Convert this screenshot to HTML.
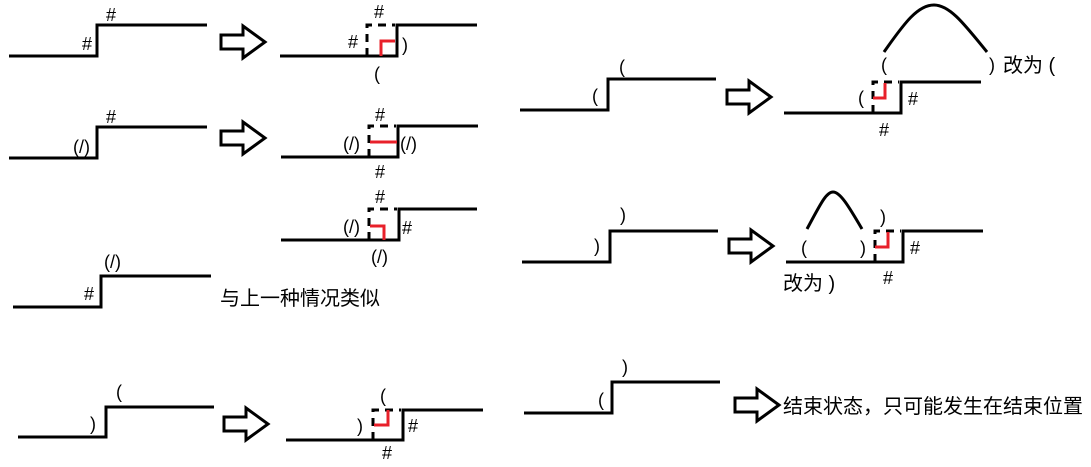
<!DOCTYPE html>
<html><head><meta charset="utf-8"><style>
html,body{margin:0;padding:0;background:#fff;}
svg{display:block;}
text{font-family:"Liberation Sans","Noto Sans CJK SC",sans-serif;font-size:18px;fill:#000;}
.c{font-size:20px;}
</style></head><body>
<svg width="1091" height="467" viewBox="0 0 1091 467" xmlns="http://www.w3.org/2000/svg">
<defs>
<g id="arr"><path d="M0,-7 H22 V-16 L44,0 L22,16 V7 H0 Z" fill="#fff" stroke="#000" stroke-width="3" stroke-linejoin="miter"/></g>
</defs>
<g fill="none" stroke="#000" stroke-width="3">
<polyline points="9,56 97,56 97,25 207,25"/>
<polyline points="9,158 97,158 97,127 207,127"/>
<polyline points="13,307 101,307 101,276 211,276"/>
<polyline points="18,437 106,437 106,407 214,407"/>
<polyline points="280,56 397,56 397,25 477,25"/>
<polyline points="281,157 398,157 398,126 478,126"/>
<polyline points="281,240 399,240 399,209 477,209"/>
<polyline points="286,440 403,440 403,410 483,410"/>
<polyline points="520,110 608,110 608,79 716,79"/>
<polyline points="784,113 901,113 901,82 981,82"/>
<polyline points="522,262 610,262 610,231 718,231"/>
<polyline points="786,262 903,262 903,231 983,231"/>
<polyline points="524,413 612,413 612,382 720,382"/>
<path d="M884,52 C905,22 918,5 934,5 C950,5 965,25 987,52"/>
<path d="M807,229 C820,205 826,192 833,192 C840,192 848,205 862,229"/>
</g>
<g fill="none" stroke="#000" stroke-width="3" stroke-dasharray="8,6">
<polyline points="367,56 367,25 395,25"/>
<polyline points="369,157 369,126 396,126"/>
<polyline points="369,240 369,209 397,209"/>
<polyline points="373,440 373,410 401,410"/>
<polyline points="873,113 873,82 899,82"/>
<polyline points="875,262 875,231 901,231"/>
</g>
<g fill="none" stroke="#e8202a" stroke-width="3">
<polyline points="381,56 381,41 395,41"/>
<polyline points="370,142 397,142"/>
<polyline points="370,226 384,226 384,240"/>
<polyline points="374,425 388,425 388,410"/>
<polyline points="873,98 885,98 885,83"/>
<polyline points="875,247 888,247 888,232"/>
</g>
<use href="#arr" x="221" y="42"/>
<use href="#arr" x="221" y="138"/>
<use href="#arr" x="224" y="424"/>
<use href="#arr" x="727" y="97"/>
<use href="#arr" x="729" y="246"/>
<use href="#arr" x="735" y="405"/>
<text x="82" y="50">#</text>
<text x="106" y="21">#</text>
<text x="374" y="18">#</text>
<text x="348" y="48">#</text>
<text x="402" y="51">)</text>
<text x="374" y="80">(</text>

<text x="73" y="153">(/)</text>
<text x="106" y="123">#</text>
<text x="375" y="121">#</text>
<text x="343" y="150">(/)</text>
<text x="400" y="150">(/)</text>
<text x="375" y="178">#</text>

<text x="375" y="203">#</text>
<text x="343" y="233">(/)</text>
<text x="402" y="234">#</text>
<text x="371" y="263">(/)</text>

<text x="104" y="268">(/)</text>
<text x="84" y="300">#</text>
<text class="c" x="220" y="305">与上一种情况类似</text>

<text x="116" y="398">(</text>
<text x="90" y="430">)</text>
<text x="380" y="402">(</text>
<text x="357" y="432">)</text>
<text x="408" y="432">#</text>
<text x="382" y="459">#</text>

<text x="619" y="73">(</text>
<text x="592" y="102">(</text>
<text x="881" y="71">(</text>
<text x="989" y="71">)</text>
<text class="c" x="1003" y="72">改为 (</text>
<text x="858" y="104">(</text>
<text x="908" y="105">#</text>
<text x="879" y="136">#</text>

<text x="620" y="221">)</text>
<text x="594" y="252">)</text>
<text x="801" y="254">(</text>
<text x="860" y="254">)</text>
<text x="880" y="223">)</text>
<text x="910" y="254">#</text>
<text x="883" y="284">#</text>
<text class="c" x="783" y="290">改为 )</text>

<text x="622" y="373">)</text>
<text x="598" y="406">(</text>
<text class="c" x="783" y="413">结束状态，只可能发生在结束位置</text>
</svg>
</body></html>
